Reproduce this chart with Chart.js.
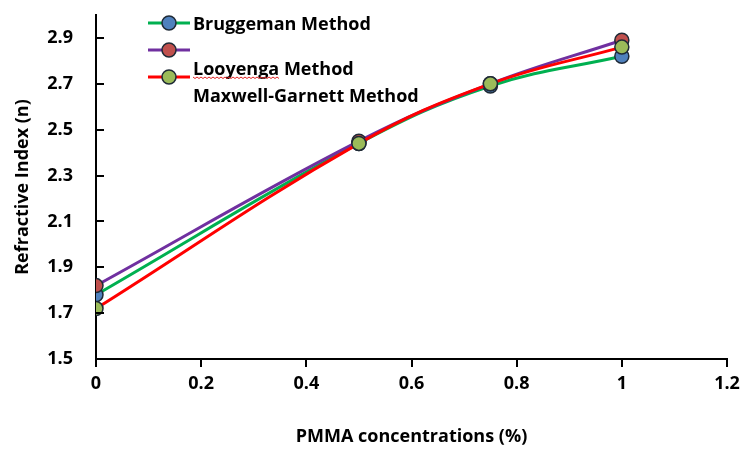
<!DOCTYPE html>
<html>
<head>
<title>Refractive index vs PMMA concentration</title>
<script src="https://cdn.jsdelivr.net/npm/chart.js@4.4.1/dist/chart.umd.min.js"></script>
<style>
body {
	margin: 0;
	background: #ffffff;
}
#chart-container {
	width: 745px;
	height: 456px;
}
</style>
</head>
<body>
<div id="chart-container"><canvas id="chart" width="745" height="456"></canvas></div>
<script>
	var xValues = [0, 0.5, 0.75, 1];
	var bruggeman = [1.78, 2.44, 2.69, 2.82];
	var looyenga = [1.82, 2.45, 2.70, 2.89];
	var maxwellGarnett = [1.72, 2.44, 2.70, 2.86];
	var seriesNames = ['Bruggeman Method', 'Looyenga Method', 'Maxwell-Garnett Method'];
	var xTicks = [0, 0.2, 0.4, 0.6, 0.8, 1, 1.2];
	var yTicks = [1.5, 1.7, 1.9, 2.1, 2.3, 2.5, 2.7, 2.9];

	var FONT = '"Open Sans", "Noto Sans", sans-serif';
	var lineColors = ['#00b050', '#7030a0', '#ff0000'];
	var markerColors = ['#4f81bd', '#c0504d', '#9bbb59'];
	var markerBorder = '#1f2a36';

	function toPoints(ys) {
		var pts = [];
		for (var i = 0; i < xValues.length; i++) {
			pts.push({x: xValues[i], y: ys[i]});
		}
		return pts;
	}

	function makeDataset(idx, ys) {
		return {
			label: seriesNames[idx],
			data: toPoints(ys),
			borderColor: lineColors[idx],
			borderWidth: 3,
			tension: 0.4,
			pointRadius: 7,
			pointBorderWidth: 1.5,
			pointBackgroundColor: markerColors[idx],
			pointBorderColor: markerBorder,
			order: 2 - idx // later series drawn on top, like the original
		};
	}

	// y ticks point inward, so draw them by hand
	var innerTicks = {
		id: 'innerTicks',
		afterDraw: function(chart) {
			var ctx = chart.ctx;
			var y = chart.scales.y;
			var left = chart.chartArea.left;
			ctx.save();
			ctx.strokeStyle = '#000';
			ctx.lineWidth = 2;
			yTicks.forEach(function(v) {
				var py = Math.round(y.getPixelForValue(v));
				ctx.beginPath();
				ctx.moveTo(left, py);
				ctx.lineTo(left + 8, py);
				ctx.stroke();
			});
			ctx.restore();
		}
	};

	// the legend in the original is oddly laid out, so it is drawn here
	var customLegend = {
		id: 'customLegend',
		afterDatasetsDraw: function(chart) {
			var ctx = chart.ctx;
			var rows = [23, 50, 77];
			var baselines = [29.5, 75, 101.5];
			ctx.save();
			for (var i = 0; i < 3; i++) {
				ctx.strokeStyle = lineColors[i];
				ctx.lineWidth = 3;
				ctx.beginPath();
				ctx.moveTo(148, rows[i]);
				ctx.lineTo(190, rows[i]);
				ctx.stroke();
				ctx.beginPath();
				ctx.arc(169, rows[i], 7, 0, Math.PI * 2);
				ctx.fillStyle = markerColors[i];
				ctx.fill();
				ctx.lineWidth = 1.5;
				ctx.strokeStyle = markerBorder;
				ctx.stroke();
			}
			ctx.fillStyle = '#000';
			ctx.font = 'bold 18px ' + FONT;
			ctx.textBaseline = 'alphabetic';
			ctx.textAlign = 'left';
			for (var j = 0; j < 3; j++) {
				ctx.fillText(seriesNames[j], 193, baselines[j]);
			}
			// spell-check squiggle under "Looyenga"
			var w = ctx.measureText('Looyenga').width;
			ctx.strokeStyle = '#e02020';
			ctx.lineWidth = 1;
			ctx.beginPath();
			for (var sx = 0; sx <= w; sx += 2) {
				var sy = 77 + ((sx / 2) % 2 === 0 ? 0 : 1.5);
				if (sx === 0) ctx.moveTo(193 + sx, sy); else ctx.lineTo(193 + sx, sy);
			}
			ctx.stroke();
			ctx.restore();
		}
	};

	var chart = new Chart(document.getElementById('chart'), {
		type: 'line',
		data: {
			datasets: [
				makeDataset(0, bruggeman),
				makeDataset(1, looyenga),
				makeDataset(2, maxwellGarnett)
			]
		},
		options: {
			responsive: false,
			animation: false,
			devicePixelRatio: 1,
			layout: {
				padding: {top: 15, right: 18, left: 0, bottom: 0}
			},
			plugins: {
				legend: {display: false},
				tooltip: {enabled: false}
			},
			scales: {
				x: {
					type: 'linear',
					min: 0,
					max: 1.2,
					afterBuildTicks: function(scale) {
						scale.ticks = xTicks.map(function(v) { return {value: v}; });
					},
					afterFit: function(scale) {
						scale.height = 97;
						scale.paddingLeft = 0;
						scale.paddingRight = 0;
					},
					border: {display: true, color: '#000', width: 2},
					grid: {
						drawOnChartArea: false,
						drawTicks: true,
						tickLength: 8,
						color: '#000',
						lineWidth: 2
					},
					ticks: {
						color: '#000',
						padding: 6,
						maxRotation: 0,
						font: {family: FONT, size: 18, weight: 'bold'},
						callback: function(v) { return String(Math.round(v * 10) / 10); }
					},
					title: {
						display: true,
						text: 'PMMA concentrations (%)',
						color: '#000',
						font: {family: FONT, size: 18, weight: 'bold'},
						padding: {top: 0, bottom: 8}
					}
				},
				y: {
					type: 'linear',
					min: 1.5,
					max: 3.0,
					afterBuildTicks: function(scale) {
						scale.ticks = yTicks.map(function(v) { return {value: v}; });
					},
					afterFit: function(scale) {
						scale.width = 96;
						scale.paddingTop = 0;
						scale.paddingBottom = 0;
					},
					border: {display: true, color: '#000', width: 2},
					grid: {
						drawOnChartArea: false,
						drawTicks: false
					},
					ticks: {
						color: '#000',
						padding: 23,
						font: {family: FONT, size: 18, weight: 'bold'},
						callback: function(v) { return v.toFixed(1); }
					},
					title: {
						display: true,
						text: 'Refractive Index (n)',
						color: '#000',
						font: {family: FONT, size: 18, weight: 'bold'},
						padding: {top: 12, bottom: 0}
					}
				}
			}
		},
		plugins: [innerTicks, customLegend]
	});
</script>
</body>
</html>
